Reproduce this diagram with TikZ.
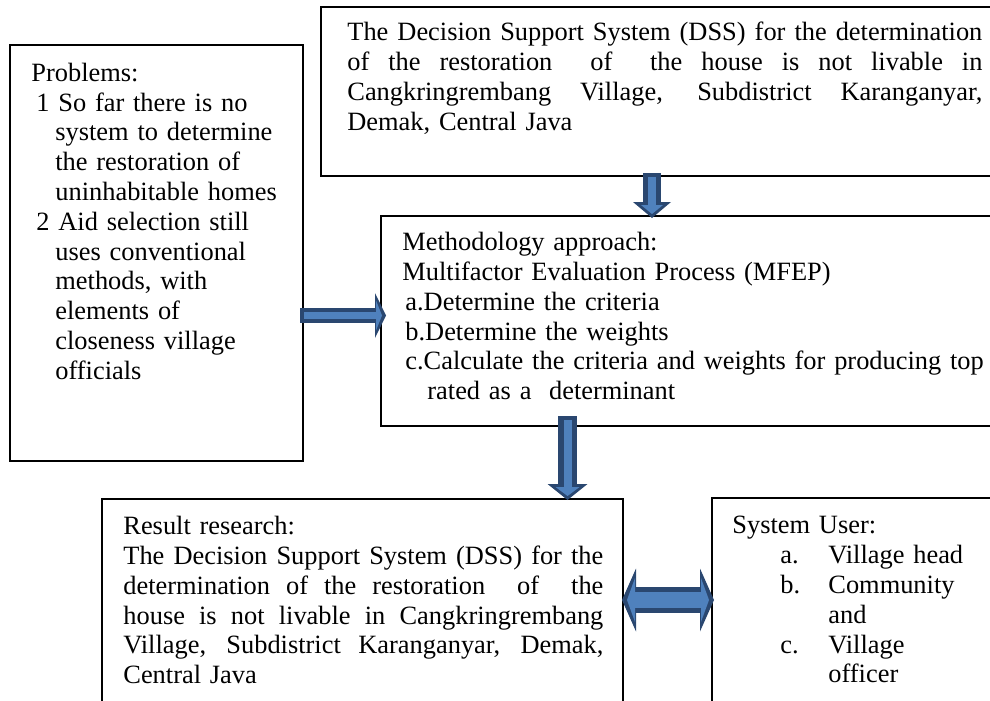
\documentclass[tikz,border=0pt]{standalone}
\usepackage{fontspec}
\setmainfont{Liberation Serif}
\usetikzlibrary{positioning,calc,arrows.meta}
\definecolor{arrowedge}{HTML}{2A4770}
\definecolor{arrowfill}{HTML}{4F81BD}
\newcommand{\jline}[1]{\makebox[\hsize][s]{\spaceskip=.25em plus 1em\xspaceskip=\spaceskip #1}\\}

\begin{document}
\begin{tikzpicture}[x=0.5pt,y=-0.5pt,
  every node/.style={font=\fontsize{13.2pt}{14.9pt}\selectfont},
  box/.style={draw,line width=0.8pt,anchor=north west,inner sep=0pt,outer sep=0pt},
  txt/.style={anchor=north west,inner sep=0pt,align=left},
  shell/.style={draw=arrowedge,line width=#1},
  core/.style={draw=arrowfill,line width=#1}]
\useasboundingbox (0,0) rectangle (990,701);
\clip (0,0) rectangle (990,701);

% boxes
\node[box,minimum width=146.5pt,minimum height=208pt] (probs) at (10,45) {};
\node[box,minimum width=344.5pt,minimum height=84.5pt] (dss) at (321,7) {};
\node[box,minimum width=314.5pt,minimum height=105pt] (method) at (381,216) {};
\node[box,minimum width=260.5pt,minimum height=111pt] (result) at (102,499) {};
\node[box,minimum width=149pt,minimum height=111pt] (users) at (712,498) {};

% texts
\node[txt,text width=125pt] (probstext) at ($(probs.north west)+(21,17.5)$) {Problems:\\
\hspace*{2.5pt}1 So far there is no\\
\hspace*{12pt}system to determine\\
\hspace*{12pt}the restoration of\\
\hspace*{12pt}uninhabitable homes\\
\hspace*{2.5pt}2 Aid selection still\\
\hspace*{12pt}uses conventional\\
\hspace*{12pt}methods, with\\
\hspace*{12pt}elements of\\
\hspace*{12pt}closeness village\\
\hspace*{12pt}officials};
\node[txt,text width=317.5pt] (dsstext) at ($(dss.north west)+(26,15)$) {%
\jline{The Decision Support System (DSS) for the determination}
\jline{of the restoration \ of \ the house is not livable in}
\jline{Cangkringrembang Village, Subdistrict Karanganyar,}
Demak, Central Java};
\node[txt,text width=300pt] (methodtext) at ($(method.north west)+(21,16)$) {Methodology approach:\\
Multifactor Evaluation Process (MFEP)\\
\hspace*{1.5pt}a.Determine the criteria\\
\hspace*{1.5pt}b.Determine the weights\\
\hspace*{1.5pt}c.Calculate the criteria and weights for producing top\\
\hspace*{12.5pt}rated as a \ determinant};
\node[txt,text width=240pt] (resulttext) at ($(result.north west)+(21,17)$) {Result research:\\
\jline{The Decision Support System (DSS) for the}
\jline{determination of the restoration \ of \ the}
\jline{house is not livable in Cangkringrembang}
\jline{Village, Subdistrict Karanganyar, Demak,}
Central Java};
\node[txt,text width=130pt] (userstext) at ($(users.north west)+(20,18)$) {System User:\\
\hspace*{24pt}\makebox[24pt][l]{a.}Village head\\
\hspace*{24pt}\makebox[24pt][l]{b.}Community\\
\hspace*{48pt}and\\
\hspace*{24pt}\makebox[24pt][l]{c.}Village\\
\hspace*{48pt}officer};

% arrows
\draw[shell=9pt,-{Triangle[length=8pt,width=19pt,line width=0pt]}] ($(dss.south west)+(331,-3)$) -- ($(method.north west)+(271,2)$);
\draw[core=4pt,-{Triangle[length=4.5pt,width=11pt,line width=0pt]},shorten <=2pt,shorten >=2pt] ($(dss.south west)+(331,-3)$) -- ($(method.north west)+(271,2)$);
\draw[shell=7.5pt,-{Triangle[length=5.5pt,width=22.5pt,line width=0pt]}] ($(probs.north east)+(-3,270.5)$) -- ($(method.north west)+(5,99.5)$);
\draw[core=3.5pt,-{Triangle[length=3pt,width=15pt,line width=0pt]},shorten <=2pt,shorten >=2pt] ($(probs.north east)+(-3,270.5)$) -- ($(method.north west)+(5,99.5)$);
\draw[shell=9.5pt,-{Triangle[length=8pt,width=20pt,line width=0pt]}] ($(method.south west)+(186.5,-10)$) -- ($(result.north west)+(465.5,1)$);
\draw[core=4pt,-{Triangle[length=4.5pt,width=12pt,line width=0pt]},shorten <=2pt,shorten >=2pt] ($(method.south west)+(186.5,-10)$) -- ($(result.north west)+(465.5,1)$);
\draw[shell=13pt,{Triangle[length=7pt,width=31.5pt,line width=0pt]}-{Triangle[length=7pt,width=31.5pt,line width=0pt]}] ($(result.north east)+(-1,101)$) -- ($(users.north west)+(2,102)$);
\draw[core=8pt,{Triangle[length=4pt,width=22pt,line width=0pt]}-{Triangle[length=4pt,width=22pt,line width=0pt]},shorten <=2.5pt,shorten >=2.5pt] ($(result.north east)+(-1,101)$) -- ($(users.north west)+(2,102)$);
\end{tikzpicture}
\end{document}
